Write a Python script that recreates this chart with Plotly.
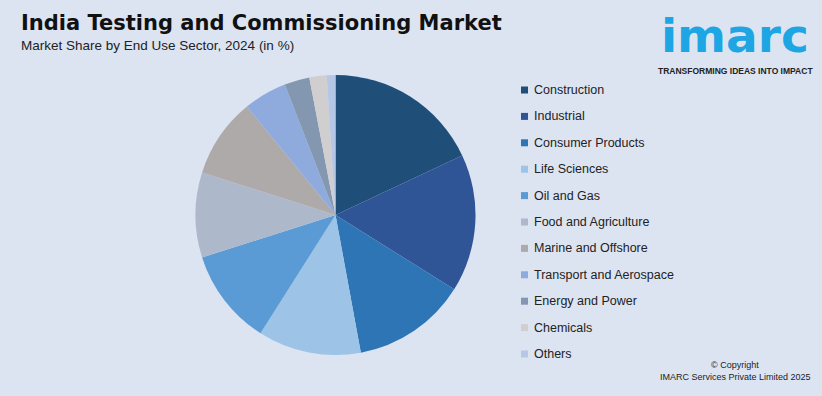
import plotly.graph_objects as go

categories = ["Construction", "Industrial", "Consumer Products", "Life Sciences", "Oil and Gas",
              "Food and Agriculture", "Marine and Offshore", "Transport and Aerospace",
              "Energy and Power", "Chemicals", "Others"]
shares = [18.0, 15.9, 13.2, 11.9, 11.1, 9.8, 9.2, 5.0, 2.9, 2.0, 1.0]
colors = ["#1f4e79", "#2f5597", "#2e75b6", "#9dc3e6", "#5b9bd5", "#adb9ca",
          "#aeaaaa", "#8faadc", "#8497b0", "#d0cece", "#b4c7e7"]

title = "India Testing and Commissioning Market"
subtitle = "Market Share by End Use Sector, 2024 (in %)"

W, H = 822, 396
BG = "#dce4f2"

fig = go.Figure()
fig.add_trace(go.Pie(
    labels=categories, values=shares, sort=False, direction="clockwise", rotation=0,
    marker=dict(colors=colors, line=dict(width=0)),
    textinfo="none", hoverinfo="label+percent", showlegend=False,
    domain=dict(x=[195.5 / W, 475.5 / W], y=[1 - 355 / H, 1 - 75 / H]),
))

shapes = []
annotations = []
# manual legend
y0, dy = 90, 26.4
for i, (cat, col) in enumerate(zip(categories, colors)):
    yc = y0 + i * dy
    shapes.append(dict(type="rect", xref="paper", yref="paper",
                       x0=521 / W, x1=528 / W, y0=1 - (yc + 3.5) / H, y1=1 - (yc - 3.5) / H,
                       fillcolor=col, line=dict(width=0)))
    annotations.append(dict(text=cat, xref="paper", yref="paper", x=532 / W, y=1 - yc / H,
                            xanchor="left", yanchor="middle", showarrow=False,
                            font=dict(family="Liberation Sans, Arial", size=12.5, color="#222222")))

annotations += [
    dict(text="<b>" + title + "</b>", xref="paper", yref="paper", x=19 / W, y=1 - 23 / H,
         xanchor="left", yanchor="middle", showarrow=False,
         font=dict(family="DejaVu Sans", size=21, color="#111111")),
    dict(text=subtitle, xref="paper", yref="paper", x=19 / W, y=1 - 46 / H,
         xanchor="left", yanchor="middle", showarrow=False,
         font=dict(family="Liberation Sans, Arial", size=13.5, color="#222222")),
    dict(text="<b>imarc</b>", xref="paper", yref="paper", x=735 / W, y=1 - 65 / H,
         xanchor="center", yanchor="bottom", showarrow=False,
         font=dict(family="DejaVu Sans", size=47, color="#1ea5e4")),
    dict(text="<b>TRANSFORMING IDEAS INTO IMPACT</b>", xref="paper", yref="paper", x=735 / W, y=1 - 64 / H,
         xanchor="center", yanchor="top", showarrow=False,
         font=dict(family="Liberation Sans, Arial", size=8.5, color="#222222")),
    dict(text="© Copyright", xref="paper", yref="paper", x=735 / W, y=1 - 365 / H,
         xanchor="center", yanchor="middle", showarrow=False,
         font=dict(family="Liberation Sans, Arial", size=9, color="#222222")),
    dict(text="IMARC Services Private Limited 2025", xref="paper", yref="paper", x=735 / W, y=1 - 377 / H,
         xanchor="center", yanchor="middle", showarrow=False,
         font=dict(family="Liberation Sans, Arial", size=9, color="#222222")),
]

fig.update_layout(width=W, height=H, margin=dict(l=0, r=0, t=0, b=0),
                  paper_bgcolor=BG, plot_bgcolor=BG,
                  shapes=shapes, annotations=annotations, showlegend=False)
fig.write_html("out.html", config={"displayModeBar": False})

with open("out.html", encoding="utf-8") as f:
    html = f.read()
html = html.replace("<head>", "<head><style>html,body{margin:0;padding:0;overflow:hidden;}</style>", 1)
with open("out.html", "w", encoding="utf-8") as f:
    f.write(html)
